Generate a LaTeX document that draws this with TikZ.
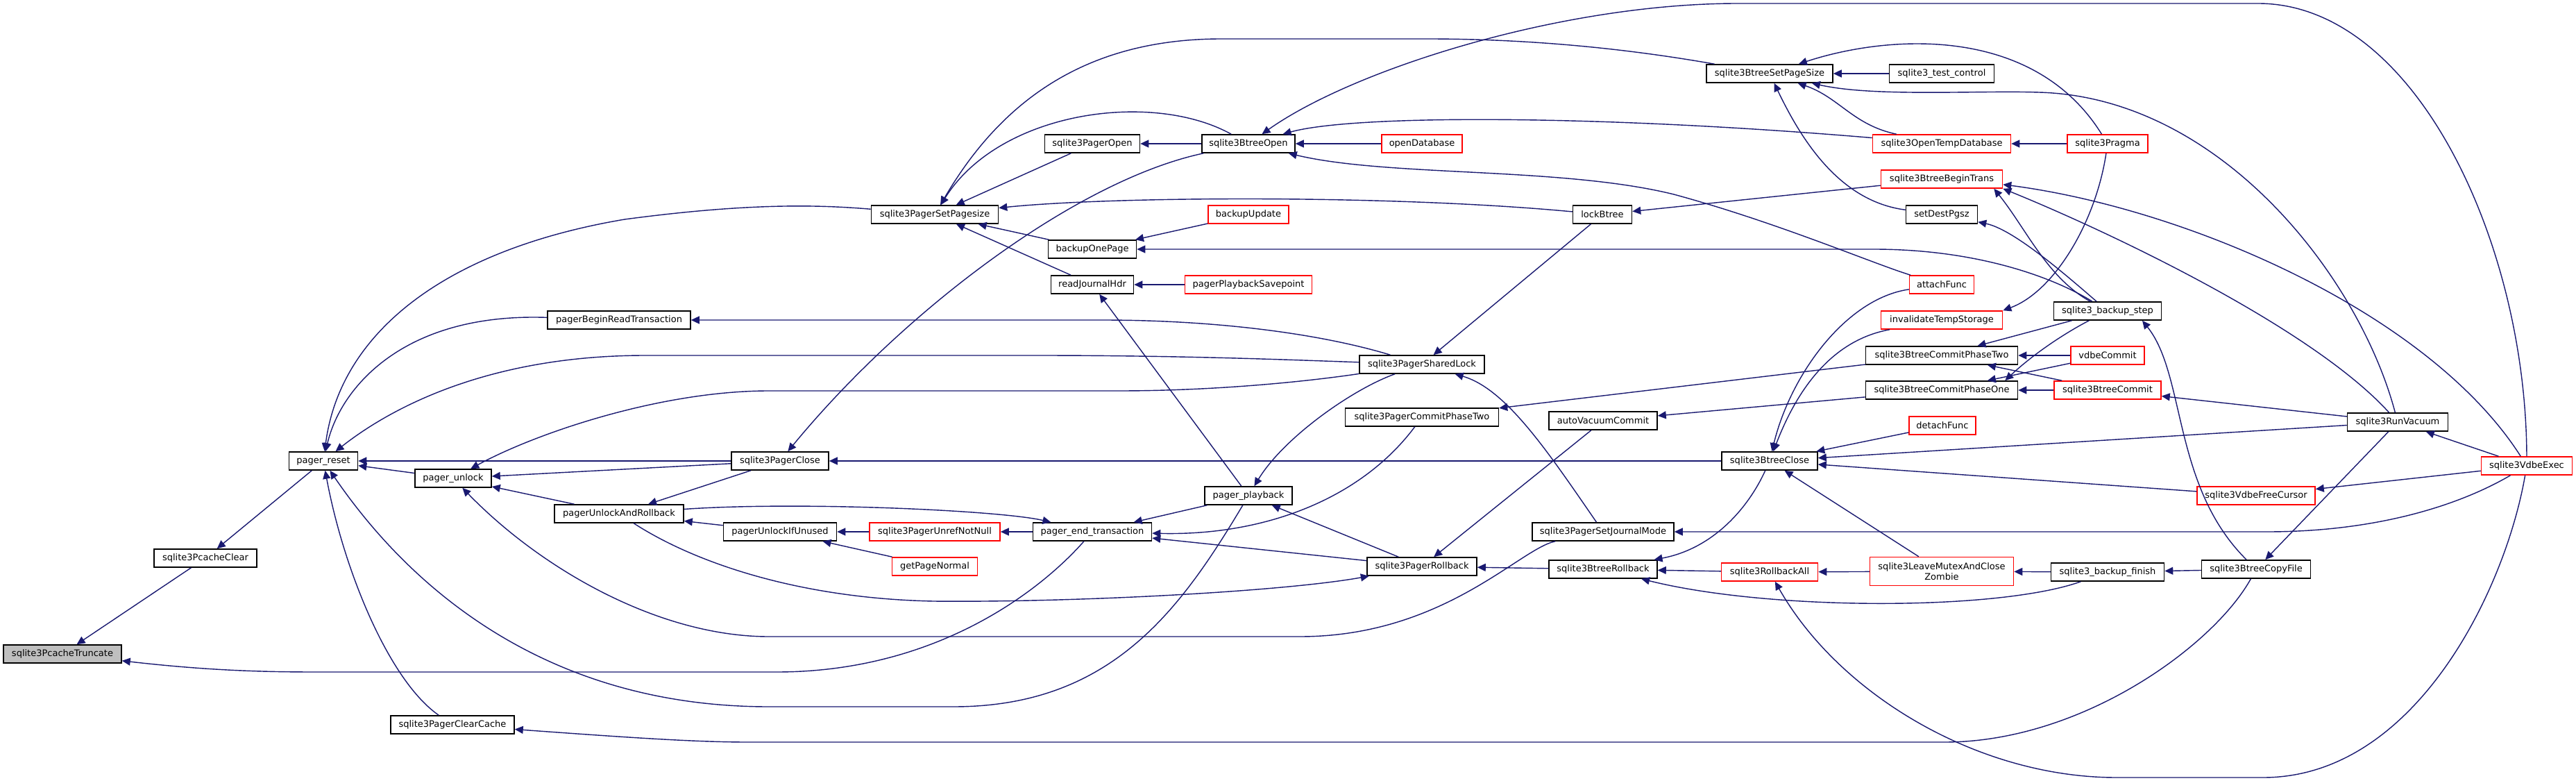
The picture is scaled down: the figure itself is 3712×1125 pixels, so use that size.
\documentclass[tikz,border=0pt]{standalone}
\usepackage{fontspec}
\setmainfont{DejaVu Sans}
\usetikzlibrary{arrows.meta}
\definecolor{edgeblue}{HTML}{191970}
\definecolor{rootgray}{HTML}{BFBFBF}
\begin{document}
\begin{tikzpicture}[x=0.02cm,y=-0.02cm,
  fn/.style={draw=black, line width=0.9pt, fill=white, inner sep=0pt, minimum height=0.52cm,
             font=\fontsize{7.4pt}{8.2pt}\selectfont, align=center},
  rn/.style={fn, draw=red},
  e/.style={draw=edgeblue, line width=0.8pt, {Triangle[length=0.24cm,width=0.22cm]}-},
]
\useasboundingbox (0,0) rectangle (3712,1125);
% nodes
\node[fn, fill=rootgray, minimum width=3.40cm] (trunc) at (90,942) {sqlite3PcacheTruncate};
\node[fn, minimum width=2.96cm] (pclear) at (296,804) {sqlite3PcacheClear};
\node[fn, minimum width=1.98cm] (preset) at (466,664) {pager\_reset};
\node[fn, minimum width=2.20cm] (punlock) at (653,689) {pager\_unlock};
\node[fn, minimum width=3.56cm] (clearcache) at (652,1044) {sqlite3PagerClearCache};
\node[fn, minimum width=4.12cm] (begintx) at (892,461) {pagerBeginReadTransaction};
\node[fn, minimum width=3.72cm] (unlockrb) at (892,740) {pagerUnlockAndRollback};
\node[fn, minimum width=2.80cm] (pclose) at (1124,664) {sqlite3PagerClose};
\node[fn, minimum width=3.26cm] (unlockif) at (1124,766) {pagerUnlockIfUnused};
\node[fn, minimum width=3.66cm] (setpagesize) at (1347,309) {sqlite3PagerSetPagesize};
\node[rn, minimum width=3.76cm] (unref) at (1347,766) {sqlite3PagerUnrefNotNull};
\node[rn, minimum width=2.46cm] (getpage) at (1347,816) {getPageNormal};
\node[fn, minimum width=2.74cm] (pageropen) at (1574,207) {sqlite3PagerOpen};
\node[fn, minimum width=2.54cm] (backuponepage) at (1574,359) {backupOnePage};
\node[fn, minimum width=2.38cm] (readjh) at (1574,410) {readJournalHdr};
\node[fn, minimum width=3.42cm] (endtx) at (1574,766) {pager\_end\_transaction};
\node[fn, minimum width=2.68cm] (btreeopen) at (1799,207) {sqlite3BtreeOpen};
\node[rn, minimum width=2.32cm] (backupupdate) at (1799,309) {backupUpdate};
\node[rn, minimum width=3.66cm] (playbacksp) at (1799,410) {pagerPlaybackSavepoint};
\node[fn, minimum width=2.52cm] (playback) at (1799,714) {pager\_playback};
\node[rn, minimum width=2.32cm] (opendb) at (2049,207) {openDatabase};
\node[fn, minimum width=3.60cm] (sharedlock) at (2049,525) {sqlite3PagerSharedLock};
\node[fn, minimum width=4.42cm] (pcommit2) at (2049,601) {sqlite3PagerCommitPhaseTwo};
\node[fn, minimum width=3.16cm] (prollback) at (2049,816) {sqlite3PagerRollback};
\node[fn, minimum width=1.70cm] (lockbtree) at (2309,309) {lockBtree};
\node[fn, minimum width=3.12cm] (autovac) at (2310,606) {autoVacuumCommit};
\node[fn, minimum width=4.08cm] (journalmode) at (2310,766) {sqlite3PagerSetJournalMode};
\node[fn, minimum width=3.12cm] (brollback) at (2310,820) {sqlite3BtreeRollback};
\node[fn, minimum width=3.64cm] (bsetpagesize) at (2550,106) {sqlite3BtreeSetPageSize};
\node[fn, minimum width=2.76cm] (bclose) at (2550,664) {sqlite3BtreeClose};
\node[rn, minimum width=2.78cm] (rollbackall) at (2550,824) {sqlite3RollbackAll};
\node[fn, minimum width=3.02cm] (testctl) at (2798,106) {sqlite3\_test\_control};
\node[rn, minimum width=3.98cm] (opentemp) at (2798,207) {sqlite3OpenTempDatabase};
\node[rn, minimum width=3.50cm] (begintrans) at (2798,258) {sqlite3BtreeBeginTrans};
\node[fn, minimum width=2.06cm] (setdest) at (2798,309) {setDestPgsz};
\node[rn, minimum width=1.86cm] (attach) at (2798,410) {attachFunc};
\node[rn, minimum width=3.50cm] (invtemp) at (2798,461) {invalidateTempStorage};
\node[fn, minimum width=4.38cm] (bcommit2) at (2798,512) {sqlite3BtreeCommitPhaseTwo};
\node[fn, minimum width=4.38cm] (bcommit1) at (2798,562) {sqlite3BtreeCommitPhaseOne};
\node[rn, minimum width=1.92cm] (detach) at (2799,613) {detachFunc};
\node[rn, minimum width=4.14cm, minimum height=0.82cm] (zombie) at (2798,823) {sqlite3LeaveMutexAndClose\\Zombie};
\node[rn, minimum width=2.32cm] (pragma) at (3037,207) {sqlite3Pragma};
\node[fn, minimum width=3.10cm] (bstep) at (3037,448) {sqlite3\_backup\_step};
\node[rn, minimum width=2.12cm] (vdbecommit) at (3037,512) {vdbeCommit};
\node[rn, minimum width=3.08cm] (bcommit) at (3037,562) {sqlite3BtreeCommit};
\node[fn, minimum width=3.26cm] (bfinish) at (3037,824) {sqlite3\_backup\_finish};
\node[rn, minimum width=3.40cm] (freecursor) at (3251,714) {sqlite3VdbeFreeCursor};
\node[fn, minimum width=3.14cm] (copyfile) at (3251,820) {sqlite3BtreeCopyFile};
\node[fn, minimum width=2.90cm] (vacuum) at (3455,608) {sqlite3RunVacuum};
\node[rn, minimum width=2.62cm] (vdbeexec) at (3641,671) {sqlite3VdbeExec};
% edges (arrow at callee)
\draw[e] (trunc) -- (pclear);
\draw[e] (trunc) .. controls (300,966) and (380,968) .. (457,968) -- (1119,968) .. controls (1350,968) and (1500,850) .. (endtx);
\draw[e] (pclear) -- (preset);
\draw[e] (preset) -- (punlock);
\draw[e] (preset) -- (pclose);
\draw[e] (preset) .. controls (490,560) and (580,450) .. (begintx);
\draw[e] (preset) .. controls (490,480) and (640,360) .. (900,316) .. controls (1080,292) and (1180,295) .. (setpagesize);
\draw[e] (preset) .. controls (560,590) and (700,512) .. (930,512) -- (1493,512) .. controls (1700,512) and (1850,518) .. (sharedlock);
\draw[e] (preset) .. controls (600,860) and (800,1018) .. (1108,1018) -- (1374,1018) .. controls (1600,1018) and (1700,880) .. (playback);
\draw[e] (preset) .. controls (495,820) and (560,980) .. (clearcache);
\draw[e] (punlock) -- (unlockrb);
\draw[e] (punlock) -- (pclose);
\draw[e] (punlock) .. controls (770,625) and (950,563) .. (1108,563) -- (1612,563) .. controls (1750,563) and (1880,550) .. (sharedlock);
\draw[e] (punlock) .. controls (780,820) and (950,917) .. (1108,917) -- (1873,917) .. controls (2080,917) and (2190,790) .. (journalmode);
\draw[e] (clearcache) .. controls (900,1062) and (1000,1069) .. (1078,1069) -- (2802,1069) .. controls (3000,1069) and (3190,930) .. (copyfile);
\draw[e] (begintx) -- (1588,461) .. controls (1750,461) and (1900,480) .. (sharedlock);
\draw[e] (unlockrb) -- (unlockif);
\draw[e] (unlockrb) -- (pclose);
\draw[e] (endtx) .. controls (1440,735) and (1150,722) .. (unlockrb);
\draw[e] (prollback) .. controls (1850,852) and (1550,868) .. (1345,866) .. controls (1150,862) and (1000,810) .. (unlockrb);
\draw[e] (pclose) .. controls (1300,450) and (1550,260) .. (btreeopen);
\draw[e] (pclose) -- (bclose);
\draw[e] (unlockif) -- (unref);
\draw[e] (unlockif) -- (getpage);
\draw[e] (unref) -- (endtx);
\draw[e] (setpagesize) -- (pageropen);
\draw[e] (setpagesize) -- (backuponepage);
\draw[e] (setpagesize) -- (readjh);
\draw[e] (setpagesize) .. controls (1440,160) and (1660,130) .. (btreeopen);
\draw[e] (setpagesize) .. controls (1440,150) and (1560,56) .. (1760,56) -- (2057,56) .. controls (2250,56) and (2400,80) .. (bsetpagesize);
\draw[e] (setpagesize) .. controls (1600,283) and (2000,280) .. (lockbtree);
\draw[e] (endtx) -- (playback);
\draw[e] (endtx) .. controls (1820,772) and (1960,720) .. (pcommit2);
\draw[e] (endtx) -- (prollback);
\draw[e] (pageropen) -- (btreeopen);
\draw[e] (backuponepage) -- (backupupdate);
\draw[e] (backuponepage) -- (2700,359) .. controls (2850,359) and (2960,400) .. (bstep);
\draw[e] (readjh) -- (playbacksp);
\draw[e] (readjh) -- (playback);
\draw[e] (btreeopen) -- (opendb);
\draw[e] (btreeopen) .. controls (1950,165) and (2300,165) .. (opentemp);
\draw[e] (btreeopen) .. controls (2000,255) and (2250,240) .. (2412,280) .. controls (2560,320) and (2700,380) .. (attach);
\draw[e] (btreeopen) .. controls (1950,100) and (2250,5) .. (2504,5) -- (3254,5) .. controls (3480,5) and (3640,350) .. (vdbeexec);
\draw[e] (playback) .. controls (1850,630) and (1950,560) .. (sharedlock);
\draw[e] (playback) -- (prollback);
\draw[e] (sharedlock) -- (lockbtree);
\draw[e] (sharedlock) .. controls (2170,560) and (2230,650) .. (journalmode);
\draw[e] (pcommit2) -- (bcommit2);
\draw[e] (prollback) -- (autovac);
\draw[e] (prollback) -- (brollback);
\draw[e] (lockbtree) -- (begintrans);
\draw[e] (autovac) -- (bcommit1);
\draw[e] (journalmode) -- (3267,766) .. controls (3420,766) and (3540,730) .. (vdbeexec);
\draw[e] (brollback) .. controls (2470,790) and (2520,730) .. (bclose);
\draw[e] (brollback) -- (rollbackall);
\draw[e] (brollback) .. controls (2550,880) and (2880,880) .. (bfinish);
\draw[e] (bsetpagesize) -- (testctl);
\draw[e] (bsetpagesize) .. controls (2720,50) and (2930,35) .. (pragma);
\draw[e] (bsetpagesize) .. controls (2650,140) and (2670,180) .. (opentemp);
\draw[e] (bsetpagesize) .. controls (2700,140) and (2850,130) .. (2938,133) .. controls (3200,140) and (3400,400) .. (vacuum);
\draw[e] (bsetpagesize) .. controls (2595,200) and (2650,290) .. (setdest);
\draw[e] (bclose) .. controls (2580,540) and (2660,430) .. (attach);
\draw[e] (bclose) .. controls (2590,560) and (2640,490) .. (invtemp);
\draw[e] (bclose) -- (detach);
\draw[e] (bclose) -- (vacuum);
\draw[e] (bclose) -- (freecursor);
\draw[e] (bclose) -- (zombie);
\draw[e] (rollbackall) -- (zombie);
\draw[e] (rollbackall) .. controls (2650,1000) and (2850,1120) .. (3050,1120) -- (3261,1120) .. controls (3480,1120) and (3610,850) .. (vdbeexec);
\draw[e] ([xshift=-0.26cm]begintrans.south east) .. controls (2920,330) and (2950,400) .. (bstep);
\draw[e] (begintrans.south east) .. controls (3030,330) and (3330,470) .. (vacuum);
\draw[e] ([yshift=0.12cm]begintrans.south east) .. controls (3150,300) and (3500,450) .. (vdbeexec);
\draw[e] (setdest) .. controls (2900,330) and (2970,390) .. (bstep);
\draw[e] (opentemp) -- (pragma);
\draw[e] (invtemp.north east) .. controls (2960,420) and (3020,320) .. (pragma);
\draw[e] (bcommit2) -- (bstep);
\draw[e] (bcommit2) -- (vdbecommit);
\draw[e] (bcommit2) -- (bcommit);
\draw[e] ([xshift=-0.38cm]bcommit1.north east) .. controls (2930,510) and (2975,480) .. (bstep);
\draw[e] (bcommit1) -- (vdbecommit);
\draw[e] (bcommit1) -- (bcommit);
\draw[e] (zombie) -- (bfinish);
\draw[e] ([xshift=1.0cm]bstep.south) .. controls (3150,540) and (3130,700) .. (copyfile);
\draw[e] (bcommit) -- (vacuum);
\draw[e] (bfinish) -- (copyfile);
\draw[e] (freecursor) -- (vdbeexec);
\draw[e] (copyfile) -- (vacuum);
\draw[e] (vacuum) -- (vdbeexec);
\end{tikzpicture}
\end{document}
